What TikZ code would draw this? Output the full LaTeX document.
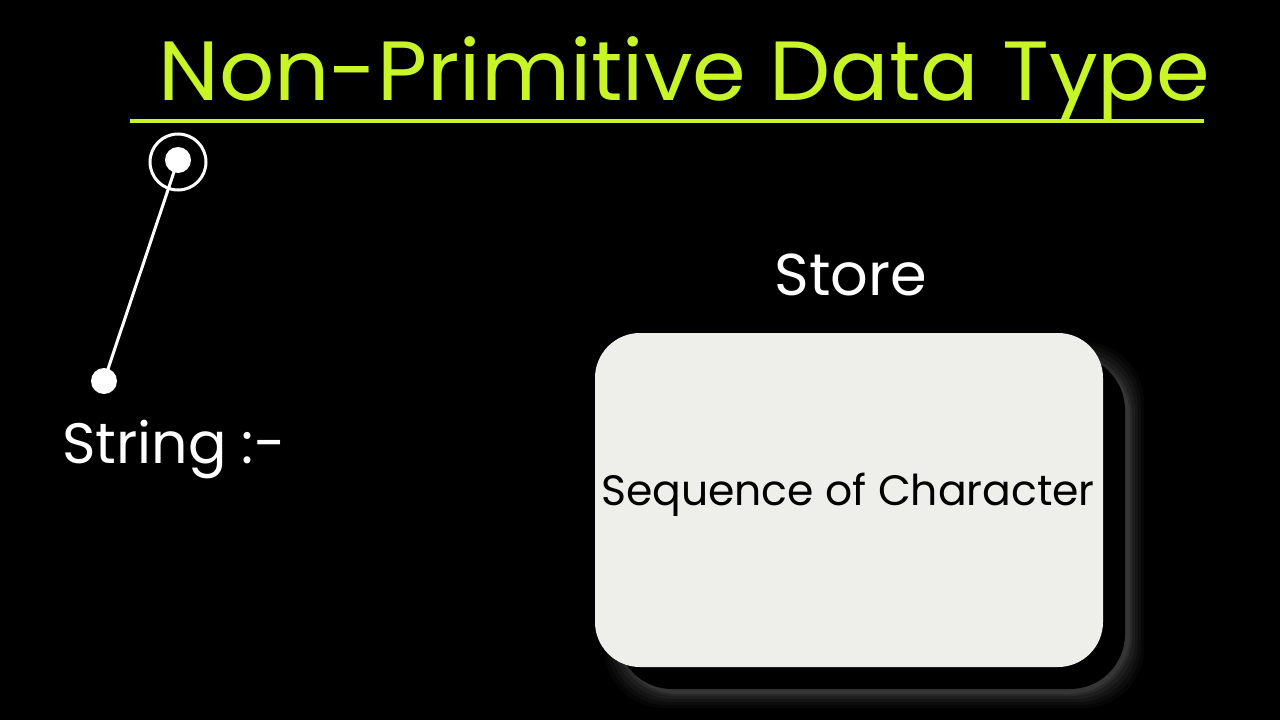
\documentclass[tikz,border=0pt]{standalone}
\usepackage{fontspec}
\setmainfont{Poppins}
\usetikzlibrary{calc}
\definecolor{lime}{HTML}{C8F526}
\definecolor{boxfill}{HTML}{EEEEEA}
\begin{document}
\begin{tikzpicture}[x=1pt,y=-1pt,
  title/.style={text=lime,font=\fontsize{84}{90}\selectfont,anchor=base west,inner sep=0,xscale=1.03},
  label/.style={text=white,font=\fontsize{57}{60}\selectfont,anchor=base west,inner sep=0},
  dot/.style={circle,fill=white,minimum size=26pt,inner sep=0},
  ring/.style={circle,draw=white,line width=3pt,minimum size=56pt,inner sep=0},
  wire/.style={white,line width=3pt}]
\fill[black] (0,0) rectangle (1280,720);
\useasboundingbox (0,0) rectangle (1280,720);
% title
\node[title] (title) at (158,100) {Non-Primitive Data Type};
\draw[lime,line width=4pt] (130,121) -- (1204,121);
% connector
\node[ring] (ring) at (178,162) {};
\node[dot] (top) at (178,160) {};
\node[dot] (bot) at (104,381) {};
\draw[wire] (top.center) -- (bot.center);
\node[label] (string) at (62,463) {String :-};
% store
\node[text=white,font=\fontsize{59}{60}\selectfont,anchor=base,inner sep=0] (store) at (851,295) {Store};
% shadow glow
\foreach \i/\o in {16/0.025,13/0.03,10/0.035,7/0.04,4/0.05,2/0.06}{
  \fill[white,opacity=\o,rounded corners=60pt] (595+25-\i,333+25-\i) rectangle (1103+25+\i,667+25+\i);
}
\fill[black,rounded corners=55pt] (595+22,333+22) rectangle (1103+22,667+22);
\node[draw=none,fill=boxfill,rounded corners=45pt,minimum width=508pt,minimum height=334pt,inner sep=0] (box) at (849,500) {};
\node[text=black,font=\fontsize{42.5}{48}\selectfont,anchor=base,inner sep=0] (seq) at (848,505) {Sequence of Character};
\end{tikzpicture}
\end{document}
